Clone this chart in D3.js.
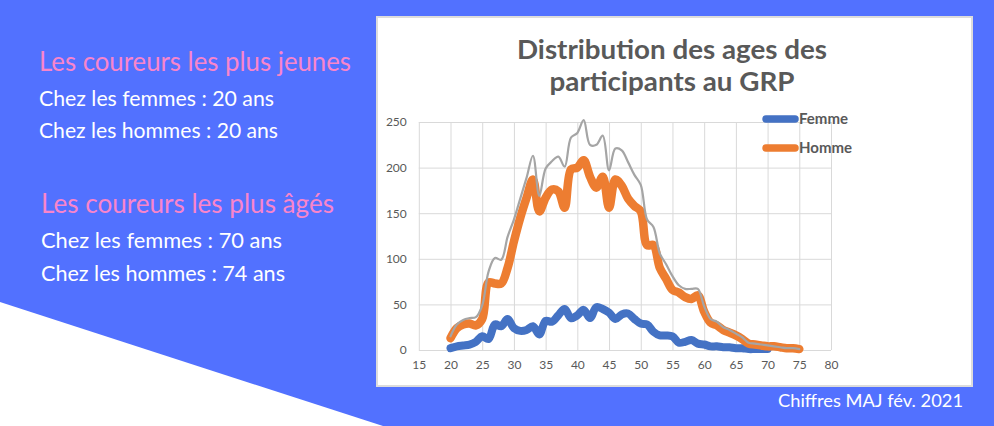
<!DOCTYPE html>
<html>
<head>
<meta charset="utf-8">
<script src="https://cdn.jsdelivr.net/npm/d3@7"></script>
<style>
  html, body { margin: 0; padding: 0; background: #5271ff; }
  svg { display: block; }
</style>
</head>
<body>
<div id="chart"></div>
<script>
// ages shown on the chart (x axis categories)
var ages = [20,21,22,23,24,25,26,27,28,29,30,31,32,33,34,35,36,37,38,39,40,
  41,42,43,44,45,46,47,48,49,50,51,52,53,54,55,56,57,58,59,60,
  61,62,63,64,65,66,67,68,69,70,71,72,73,74,75];

// number of runners per age
var homme = [13,24,28,29,27,34,74,73,73,90,119,145,167,187,152,167,176,174,156,198,200,
  208,190,178,190,156,187,180,166,158,152,115,115,90,78,66,63,58,56,60,42,
  30,27,22,19,16,12,7,6,5,4,4,3,2,2,1];
var femme = [2,4,5,6,9,15,12,28,26,34,24,21,22,26,17,32,31,38,45,35,38,
  44,35,47,45,41,34,39,40,34,29,28,20,16,16,15,8,9,11,7,6,
  4,4,3,3,2,2,1,1,1,1];
var total = [15,28,33,35,36,49,86,101,99,124,143,166,189,213,169,199,207,212,201,233,238,
  252,225,225,235,197,221,219,206,192,181,143,135,106,94,81,71,67,67,67,48,
  34,31,25,22,18,14,8,7,6,5,4,3,2,2,1];

var xTicks = [15,20,25,30,35,40,45,50,55,60,65,70,75,80];
var yTicks = [0,50,100,150,200,250];

var titleLines = ["Distribution des ages des", "participants au GRP"];
var legendNames = ["Femme", "Homme"];

var infoLines = [
  {t: "Les coureurs les plus jeunes", x: 39, y: 71, pink: true, w: 312},
  {t: "Chez les femmes : 20 ans", x: 39, y: 106, pink: false, w: 235},
  {t: "Chez les hommes : 20 ans", x: 39, y: 138, pink: false, w: 239},
  {t: "Les coureurs les plus âgés", x: 41, y: 213, pink: true, w: 293},
  {t: "Chez les femmes : 70 ans", x: 41, y: 248, pink: false, w: 241},
  {t: "Chez les hommes : 74 ans", x: 41, y: 281, pink: false, w: 244}
];

var W = 994, H = 426;
var svg = d3.select('#chart').append('svg')
  .attr('width', W).attr('height', H);

svg.append('rect').attr('width', W).attr('height', H).attr('fill', '#5271ff');
// white wedge bottom left
svg.append('path')
  .attr('d', 'M0,302 L383,426 L0,426 Z')
  .attr('fill', '#ffffff');

// left texts
svg.selectAll('text.info')
  .data(infoLines)
  .enter().append('text')
  .attr('class', 'info')
  .attr('x', function(d){ return d.x })
  .attr('y', function(d){ return d.y })
  .attr('textLength', function(d){ return d.w })
  .attr('lengthAdjust', 'spacingAndGlyphs')
  .style('font-family', 'Lato, sans-serif')
  .style('font-size', function(d){ return d.pink ? '27px' : '21px' })
  .style('fill', function(d){ return d.pink ? '#f985cb' : '#ffffff' })
  .text(function(d){ return d.t });

svg.append('text')
  .attr('x', 778).attr('y', 407)
  .attr('textLength', 185)
  .attr('lengthAdjust', 'spacingAndGlyphs')
  .style('font-family', 'Lato, sans-serif')
  .style('font-size', '18px')
  .style('fill', '#ffffff')
  .text('Chiffres MAJ fév. 2021');

// chart picture
var box = svg.append('g');
box.append('rect')
  .attr('x', 377).attr('y', 17).attr('width', 595).attr('height', 369)
  .attr('fill', '#ffffff')
  .attr('stroke', '#dcdcdc').attr('stroke-width', 2);

box.selectAll('text.title')
  .data(titleLines)
  .enter().append('text')
  .attr('class', 'title')
  .attr('x', 672)
  .attr('y', function(d, i){ return 59 + i * 32 })
  .attr('text-anchor', 'middle')
  .attr('textLength', function(d, i){ return i == 0 ? 310 : 245 })
  .attr('lengthAdjust', 'spacingAndGlyphs')
  .style('font-family', 'Lato, sans-serif')
  .style('font-weight', 'bold')
  .style('font-size', '26px')
  .style('fill', '#595959')
  .text(function(d){ return d });

var x = d3.scaleLinear().domain([15, 80]).range([418.8, 831]);
var y = d3.scaleLinear().domain([0, 250]).range([350, 122]);

var gx = box.append('g')
  .attr('transform', 'translate(0,350)')
  .call(d3.axisBottom(x).tickValues(xTicks).tickSize(-228).tickPadding(10));
var gy = box.append('g')
  .attr('transform', 'translate(418.8,0)')
  .call(d3.axisLeft(y).tickValues(yTicks).tickSize(-(831 - 418.8)).tickPadding(12));

[gx, gy].forEach(function(g){
  g.select('.domain').remove();
  g.selectAll('line').attr('stroke', '#d9d9d9').attr('stroke-width', 1);
  g.selectAll('text')
    .style('font-family', 'Lato, sans-serif')
    .style('font-size', '12px')
    .style('fill', '#595959');
});

var line = d3.line()
  .x(function(d){ return x(d[0]) })
  .y(function(d){ return y(d[1]) })
  .curve(d3.curveCatmullRom);

function pairs(vals){
  return vals.map(function(v, i){ return [ages[i], v] });
}

box.append('path')
  .attr('d', line(pairs(femme)))
  .attr('fill', 'none').attr('stroke', '#4472c4')
  .attr('stroke-width', 8).attr('stroke-linecap', 'round').attr('stroke-linejoin', 'round');

box.append('path')
  .attr('d', line(pairs(homme)))
  .attr('fill', 'none').attr('stroke', '#ed7d31')
  .attr('stroke-width', 8.5).attr('stroke-linecap', 'round').attr('stroke-linejoin', 'round');

box.append('path')
  .attr('d', line(pairs(total)))
  .attr('fill', 'none').attr('stroke', '#a5a5a5')
  .attr('stroke-width', 2.2).attr('stroke-linecap', 'round').attr('stroke-linejoin', 'round');

// legend
var legend = box.selectAll('g.leg')
  .data(legendNames)
  .enter().append('g')
  .attr('class', 'leg')
  .attr('transform', function(d, i){ return 'translate(0,' + (119 + i * 29) + ')' });

legend.append('line')
  .attr('x1', 766).attr('x2', 795)
  .attr('stroke', function(d, i){ return i == 0 ? '#4472c4' : '#ed7d31' })
  .attr('stroke-width', 7.5).attr('stroke-linecap', 'round');

legend.append('text')
  .attr('x', 799).attr('y', 5)
  .style('font-family', 'Lato, sans-serif')
  .style('font-weight', 'bold')
  .style('font-size', '15px')
  .style('fill', '#595959')
  .text(function(d){ return d });
</script>
</body>
</html>
